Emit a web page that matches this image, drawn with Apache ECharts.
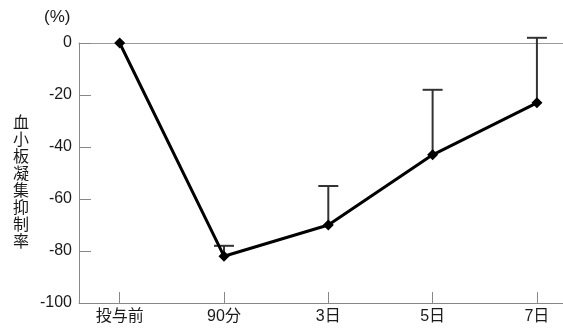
<!DOCTYPE html>
<html><head><meta charset="utf-8">
<script src="https://cdn.jsdelivr.net/npm/echarts@6/dist/echarts.min.js"></script>
<style>html,body{margin:0;padding:0;background:#fff}#c{width:563px;height:329px}</style>
</head><body><div id="c"></div>
<script>
var categories = ['投与前', '90分', '3日', '5日', '7日'];
var values = [0, -82, -70, -43, -23];
var errUpper = [null, -78, -55, -18, 2];
var yUnit = '(%)';
var yName = '血小板凝集抑制率';

var FONT = "'Liberation Sans', 'Noto Sans CJK JP', sans-serif";
var chart = echarts.init(document.getElementById('c'));
var idx = categories.map(function (_, i) { return i; });
var lineData = values.map(function (v, i) { return [i, v]; });
var errData = [];
errUpper.forEach(function (u, i) { if (u !== null) errData.push([i, values[i], u]); });

chart.setOption({
  animation: false,
  grid: { left: 79, right: 0, top: 43, bottom: 26 },
  xAxis: [{
    type: 'value', min: -0.39, max: 4.25,
    axisLine: { show: true, onZero: false, lineStyle: { color: '#888', width: 1 } },
    axisTick: { show: true, inside: true, length: 11, customValues: idx, lineStyle: { color: '#888' } },
    axisLabel: { customValues: idx, formatter: function (v) { return categories[Math.round(v)]; },
      color: '#1a1a1a', fontSize: 16, fontFamily: FONT, margin: 6 },
    splitLine: { show: false }
  }, {
    type: 'value', position: 'top', min: -0.39, max: 4.25,
    axisLine: { show: true, onZero: false, lineStyle: { color: '#999', width: 1 } },
    axisTick: { show: false }, axisLabel: { show: false }, splitLine: { show: false }
  }],
  yAxis: {
    type: 'value', min: -100, max: 0, interval: 20,
    axisLine: { show: true, onZero: false, lineStyle: { color: '#888', width: 1 } },
    axisTick: { show: true, inside: true, length: 12, lineStyle: { color: '#888' } },
    axisLabel: { color: '#1a1a1a', fontSize: 16, fontFamily: FONT, margin: 7 },
    splitLine: { show: false }
  },
  graphic: [
    { type: 'text', left: 44, top: 9, style: { text: yUnit, fontSize: 17, fontFamily: FONT, fill: '#1a1a1a' } },
    { type: 'text', left: 13, top: 115, style: { text: yName.split('').join('\n'), fontSize: 16, lineHeight: 17, fontFamily: FONT, fill: '#1a1a1a', align: 'left' } }
  ],
  series: [{
    type: 'custom', clip: false, z: 1,
    renderItem: function (params, api) {
      var p = api.coord([api.value(0), api.value(1)]);
      var t = api.coord([api.value(0), api.value(2)]);
      var hw = 10;
      var st = { stroke: '#333', lineWidth: 2 };
      return { type: 'group', children: [
        { type: 'line', shape: { x1: p[0], y1: p[1], x2: t[0], y2: t[1] }, style: st },
        { type: 'line', shape: { x1: t[0] - hw, y1: t[1], x2: t[0] + hw, y2: t[1] }, style: st }
      ] };
    },
    data: errData
  }, {
    type: 'line', z: 3,
    data: lineData,
    symbol: 'diamond', symbolSize: 11, showAllSymbol: true,
    lineStyle: { color: '#000', width: 3 },
    itemStyle: { color: '#000' }
  }]
});
</script></body></html>
